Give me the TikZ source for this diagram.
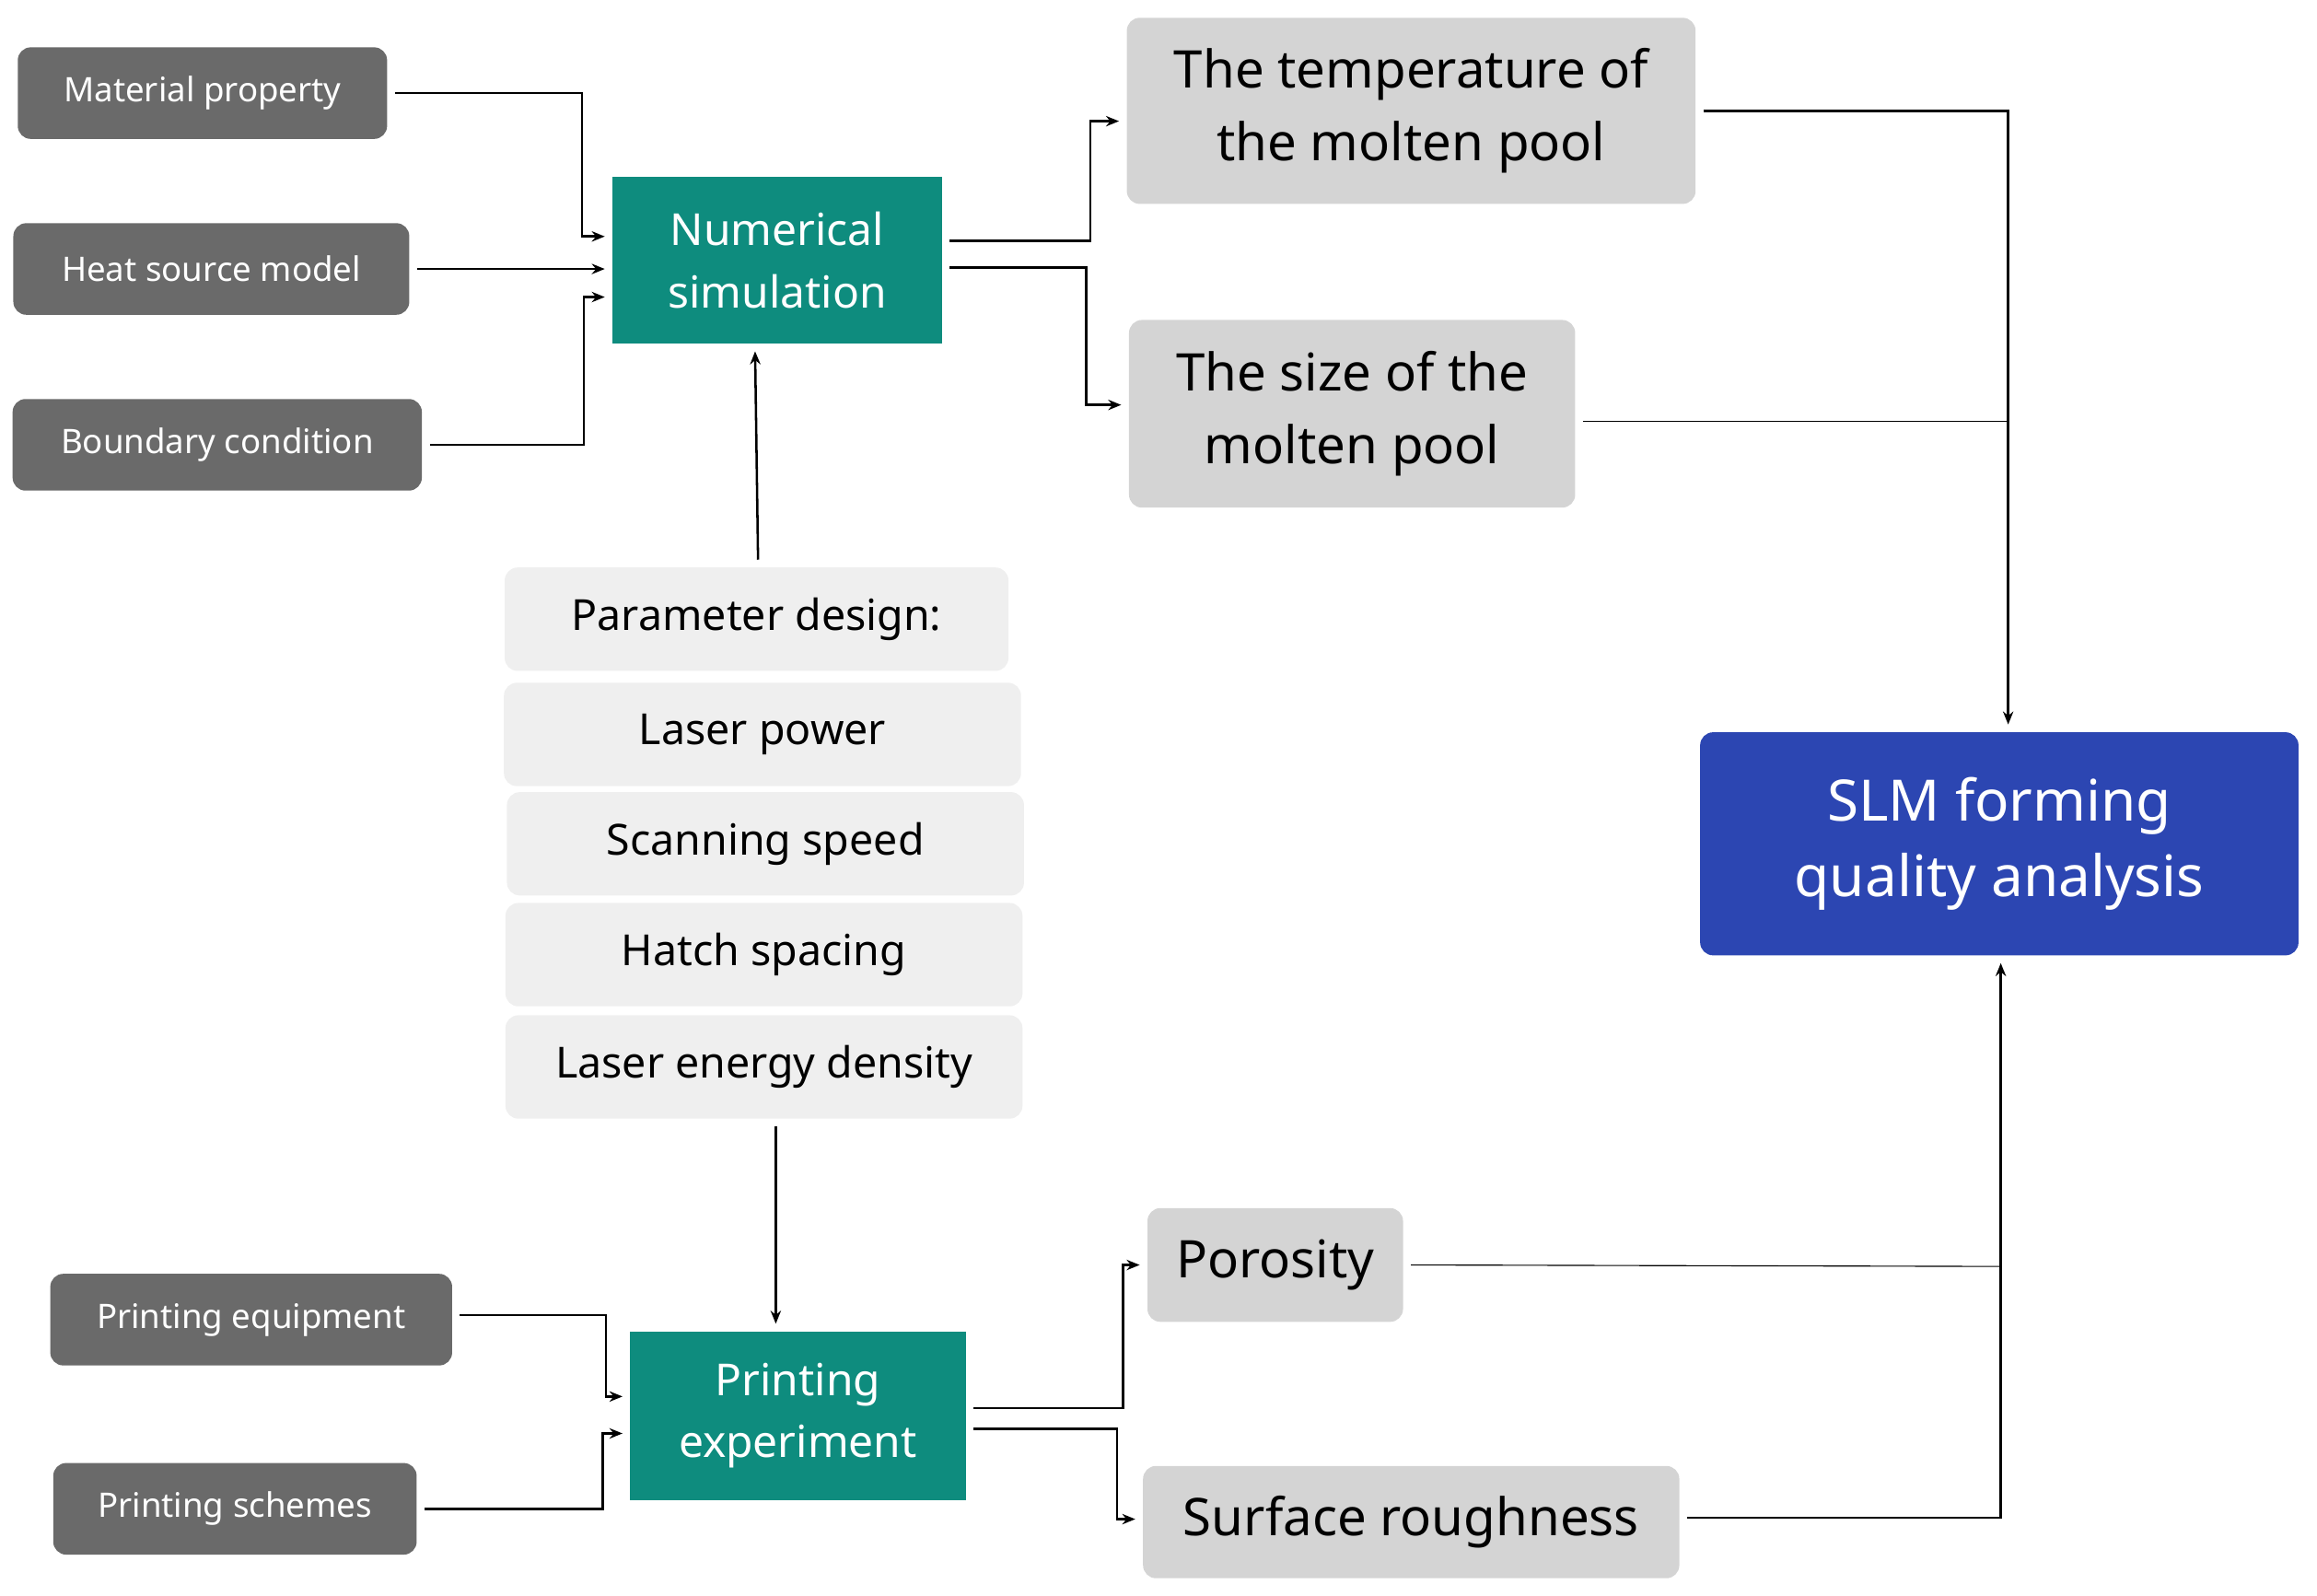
\documentclass[tikz,border=0pt]{standalone}
\usepackage{fontspec}
\setmainfont{Noto Sans}
\usetikzlibrary{arrows.meta}
\definecolor{dg}{HTML}{6A6A6A}
\definecolor{lg}{HTML}{D4D4D4}
\definecolor{vlg}{HTML}{EFEFEF}
\definecolor{teal2}{HTML}{0E8C7E}
\definecolor{blue2}{HTML}{2C46B2}
\begin{document}
\begin{tikzpicture}[x=0.02cm,y=-0.02cm,
 box/.style={rounded corners=5pt,inner sep=0pt,align=center,outer sep=3pt},
 dark/.style={box,fill=dg,text=white,font=\fontsize{13}{15}\selectfont\bfseries},
 grey/.style={box,fill=lg,text=black,font=\fontsize{20}{28}\selectfont},
 par/.style={box,fill=vlg,text=black,font=\fontsize{16.5}{20}\selectfont,minimum width=7cm,minimum height=1.4cm},
 tealb/.style={fill=teal2,text=white,inner sep=0pt,align=center,outer sep=3pt,font=\fontsize{17}{24}\selectfont},
 arr/.style={-{Stealth[length=5pt,width=4pt]},line width=0.9pt}]
\useasboundingbox (0,0) rectangle (1568,1080);
\node[dark,minimum width=5cm,minimum height=1.24cm] (mat) at (137,63) {Material property};
\node[dark,minimum width=5.36cm,minimum height=1.24cm] (heat) at (143,182) {Heat source model};
\node[dark,minimum width=5.54cm,minimum height=1.24cm] (bnd) at (147,301) {Boundary condition};
\node[tealb,minimum width=4.46cm,minimum height=2.26cm] (num) at (526,176) {Numerical\\simulation};
\node[grey,minimum width=7.7cm,minimum height=2.52cm] (temp) at (955,75) {The temperature of\\the molten pool};
\node[grey,minimum width=6.04cm,minimum height=2.54cm] (size) at (915,280) {The size of the\\molten pool};
\node[par,minimum width=6.82cm] (pd) at (512,419) {Parameter design:};
\node[par] (lp) at (516,497) {Laser power};
\node[par] (ss) at (518,571) {Scanning speed};
\node[par] (hs) at (517,646) {Hatch spacing};
\node[par] (led) at (517,722) {Laser energy density};
\node[box,fill=blue2,text=white,font=\fontsize{22}{29}\selectfont,minimum width=8.1cm,minimum height=3.02cm] (slm) at (1353,571) {SLM forming\\quality analysis};
\node[dark,minimum width=5.44cm,minimum height=1.24cm] (peq) at (170,893) {Printing equipment};
\node[dark,minimum width=4.92cm,minimum height=1.24cm] (psc) at (159,1021) {Printing schemes};
\node[tealb,minimum width=4.54cm,minimum height=2.28cm] (pex) at (540,958) {Printing\\experiment};
\node[grey,minimum width=3.46cm,minimum height=1.54cm] (por) at (863,856) {Porosity};
\node[grey,minimum width=7.26cm,minimum height=1.52cm] (sr) at (955,1030) {Surface roughness};
% left inputs
\draw[arr] (mat.east) -| (394,160) -- (num.west |- 0,160);
\draw[arr] (heat.east) -- (num.west |- heat.east);
\draw[arr] (bnd.east) -| (395,201) -- (num.west |- 0,201);
% numerical outputs
\draw[arr] (num.east |- 0,163) -| (738,82) -- (temp.west |- 0,82);
\draw[arr] (num.east |- 0,181) -| (735,274) -- (size.west |- 0,274);
\draw[arr] (temp.east) -| (slm.north -| 1359,0);
\draw (size.east |- 0,285) -- (1359,285);
\draw[arr] (pd.north -| 513,0) -- (num.south -| 511,0);
\draw[arr] (led.south -| 525,0) -- (pex.north -| 525,0);
% printing
\draw[arr] (peq.east |- 0,890) -| (410,945) -- (pex.west |- 0,945);
\draw[arr] (psc.east) -| (408,970) -- (pex.west |- 0,970);
\draw[arr] (pex.east |- 0,953) -| (760,856) -- (por.west);
\draw[arr] (pex.east |- 0,967) -| (756,1028) -- (sr.west |- 0,1028);
\draw (por.east) -- (1354,857);
\draw[arr] (sr.east |- 0,1027) -| (slm.south -| 1354,0);
\end{tikzpicture}
\end{document}
